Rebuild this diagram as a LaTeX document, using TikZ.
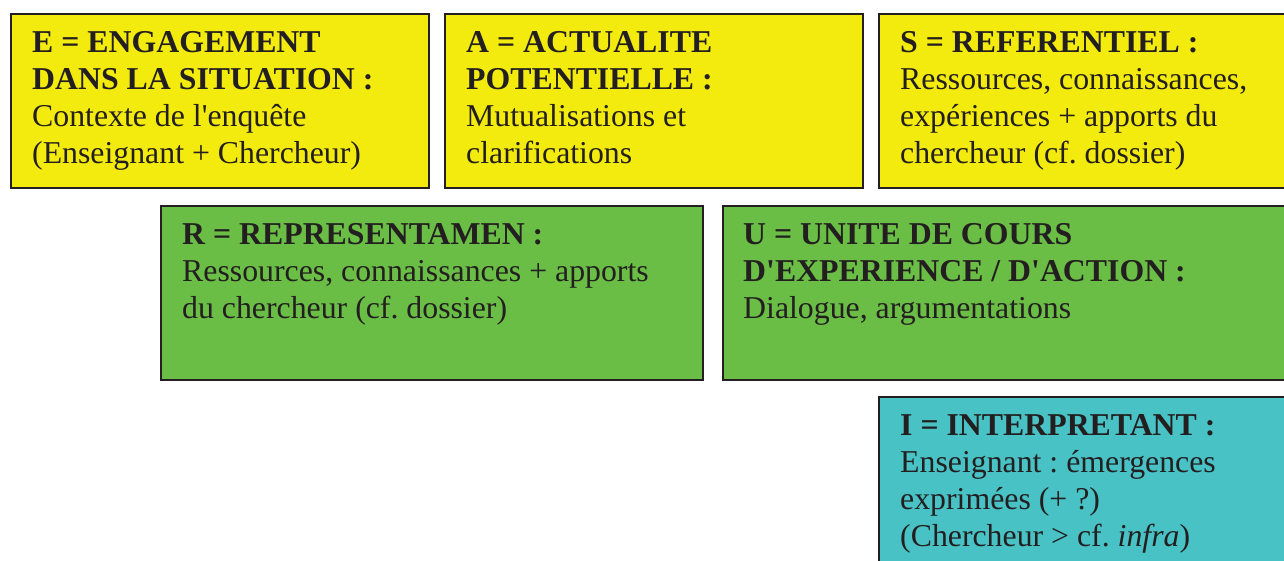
\documentclass[tikz,border=0pt]{standalone}
\usepackage{fontspec}
\setmainfont{Liberation Serif}[Ligatures=TeXOff]
\frenchspacing
\definecolor{ey}{HTML}{F3EA0E}
\definecolor{eg}{HTML}{6ABD45}
\definecolor{ec}{HTML}{48C2C5}
\definecolor{ink}{HTML}{231F20}
\begin{document}
\begin{tikzpicture}[x=1pt,y=-1pt,
  box/.style={draw=ink, line width=1.8pt, anchor=north west, inner sep=0pt},
  txt/.style={anchor=north west, inner sep=0pt, align=left, text=ink,
    font=\fontsize{31.8}{37}\selectfont\frenchspacing}]
\useasboundingbox (0,0) rectangle (1284,560);
\clip (0,0) rectangle (1284,560);
\node[box, fill=ey, minimum width=418pt, minimum height=174pt] (E) at (10,13) {};
\node[box, fill=ey, minimum width=418pt, minimum height=174pt] (A) at (444,13) {};
\node[box, fill=ey, minimum width=430pt, minimum height=174pt] (S) at (878,13) {};
\node[box, fill=eg, minimum width=542pt, minimum height=174pt] (R) at (160,205) {};
\node[box, fill=eg, minimum width=580pt, minimum height=174pt] (U) at (722,205) {};
\node[box, fill=ec, minimum width=430pt, minimum height=190pt] (I) at (878,396) {};
\node[txt] (Et) at ([shift={(22,18.5)}]E.north west)
  {\textbf{E = ENGAGEMENT}\\\textbf{DANS LA SITUATION :}\\Contexte de l'enquête\\(Enseignant + Chercheur)};
\node[txt] (At) at ([shift={(22,18.5)}]A.north west)
  {\textbf{A = ACTUALITE}\\\textbf{POTENTIELLE :}\\Mutualisations et\\clarifications};
\node[txt] (St) at ([shift={(22,18.5)}]S.north west)
  {\textbf{S = REFERENTIEL :}\\Ressources, connaissances,\\expériences + apports du\\chercheur (cf. dossier)};
\node[txt] (Rt) at ([shift={(22,18.5)}]R.north west)
  {\textbf{R = REPRESENTAMEN :}\\Ressources, connaissances + apports\\du chercheur (cf. dossier)};
\node[txt] (Ut) at ([shift={(21,18.5)}]U.north west)
  {\textbf{U = UNITE DE COURS}\\\textbf{D'EXPERIENCE / D'ACTION :}\\Dialogue, argumentations};
\node[txt] (It) at ([shift={(22,18.5)}]I.north west)
  {\textbf{I = INTERPRETANT :}\\Enseignant : émergences\\exprimées (+ ?)\\(Chercheur > cf. \textit{infra})};
\end{tikzpicture}
\end{document}
